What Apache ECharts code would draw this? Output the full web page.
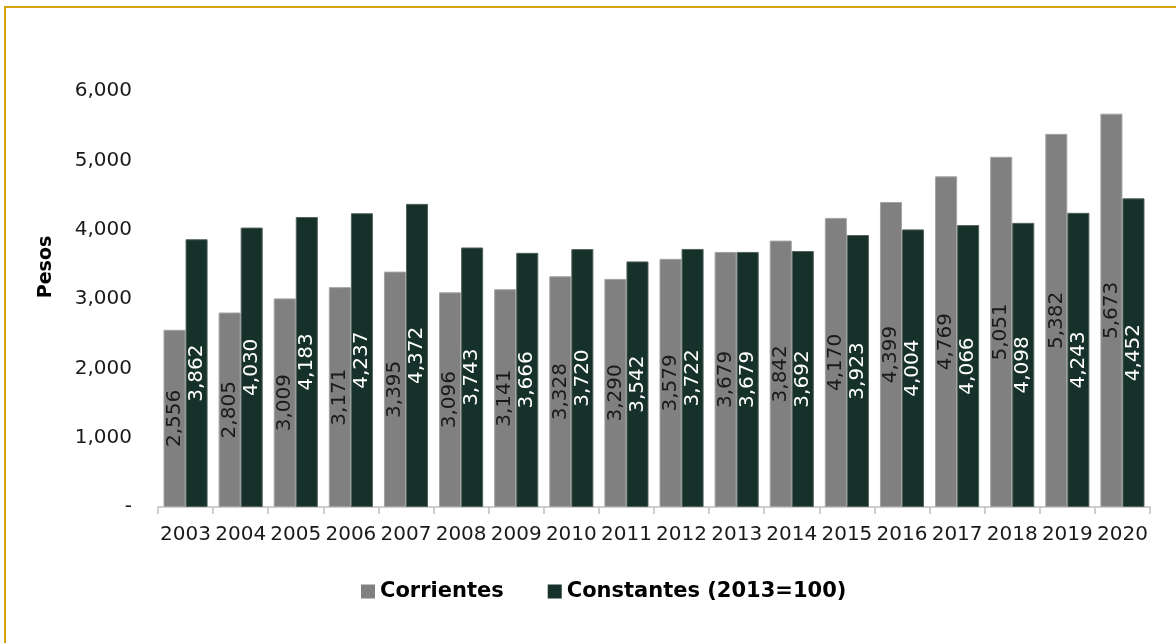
<!DOCTYPE html>
<html>
<head>
<meta charset="utf-8">
<script src="https://cdn.jsdelivr.net/npm/echarts@6/dist/echarts.min.js"></script>
<style>
  html, body { margin: 0; padding: 0; background: #ffffff; }
  #chart { width: 1176px; height: 643px; }
</style>
</head>
<body>
<div id="chart"></div>
<script>
const years = ['2003','2004','2005','2006','2007','2008','2009','2010','2011','2012','2013','2014','2015','2016','2017','2018','2019','2020'];
const corrientes = [2556, 2805, 3009, 3171, 3395, 3096, 3141, 3328, 3290, 3579, 3679, 3842, 4170, 4399, 4769, 5051, 5382, 5673];
const constantes = [3862, 4030, 4183, 4237, 4372, 3743, 3666, 3720, 3542, 3722, 3679, 3692, 3923, 4004, 4066, 4098, 4243, 4452];
const seriesNames = ['Corrientes', 'Constantes (2013=100)'];
const yAxisTitle = 'Pesos';

const FONT = 'DejaVu Sans';
const fmt = v => v === 0 ? '-' : v.toLocaleString('en-US');

const chart = echarts.init(document.getElementById('chart'), null, { renderer: 'canvas' });
chart.setOption({
  animation: false,
  backgroundColor: '#ffffff',
  textStyle: { fontFamily: FONT },
  graphic: [
    {
      type: 'rect',
      shape: { x: 5, y: 7, width: 1400, height: 900 },
      style: { fill: 'none', stroke: '#D4A20E', lineWidth: 2 },
      silent: true
    },
    {
      type: 'text',
      x: 46, y: 267,
      rotation: Math.PI / 2,
      style: {
        text: yAxisTitle,
        font: 'bold 19px "DejaVu Sans"',
        fill: '#000000',
        align: 'center',
        verticalAlign: 'middle'
      }
    }
  ],
  legend: {
    left: 356,
    top: 576,
    itemWidth: 14,
    itemHeight: 14,
    itemGap: 44,
    icon: 'rect',
    itemStyle: { borderWidth: 0 },
    textStyle: { fontFamily: FONT, fontSize: 21, fontWeight: 'bold', color: '#000000' },
    data: seriesNames
  },
  grid: { left: 158, right: 26, top: 91, bottom: 136 },
  xAxis: {
    type: 'category',
    data: years,
    axisLine: { lineStyle: { color: '#bfbfbf', width: 1.5 } },
    axisTick: { show: true, alignWithLabel: false, length: 7, lineStyle: { color: '#bfbfbf', width: 1.5 } },
    axisLabel: { interval: 0, margin: 18, fontFamily: FONT, fontSize: 20, color: '#1a1a1a' }
  },
  yAxis: {
    type: 'value',
    min: 0, max: 6000, interval: 1000,
    axisLine: { show: false },
    axisTick: { show: false },
    splitLine: { show: false },
    axisLabel: { margin: 26, fontFamily: FONT, fontSize: 20, color: '#1a1a1a', formatter: fmt }
  },
  series: [
    {
      name: seriesNames[0],
      type: 'bar',
      data: corrientes,
      barGap: '0%',
      barCategoryGap: '20%',
      itemStyle: { color: '#808080', borderColor: '#a3a3a3', borderWidth: 1 },
      label: {
        show: true, position: 'inside', rotate: 90,
        fontFamily: FONT, fontSize: 20, color: '#1a1a1a',
        formatter: p => fmt(p.value)
      }
    },
    {
      name: seriesNames[1],
      type: 'bar',
      data: constantes,
      barGap: '0%',
      barCategoryGap: '20%',
      itemStyle: { color: '#15312A', borderColor: '#53625d', borderWidth: 1 },
      label: {
        show: true, position: 'inside', rotate: 90,
        fontFamily: FONT, fontSize: 20, color: '#ffffff',
        formatter: p => fmt(p.value)
      }
    }
  ]
});
</script>
</body>
</html>
